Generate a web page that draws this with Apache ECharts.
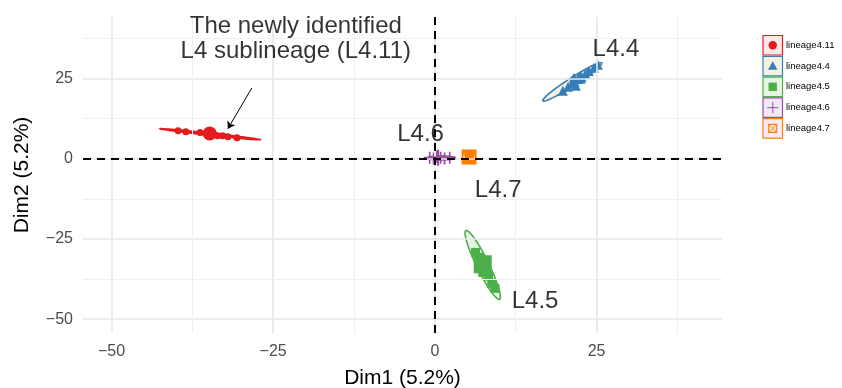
<!DOCTYPE html>
<html>
<head>
<meta charset="utf-8">
<script src="https://cdn.jsdelivr.net/npm/echarts@6/dist/echarts.min.js"></script>
<style>
  html, body { margin: 0; padding: 0; background: #fff; }
  #chart { width: 842px; height: 388px; }
</style>
</head>
<body>
<div id="chart"></div>
<script>
// Lineage names and colours
const lineages = ['lineage4.11', 'lineage4.4', 'lineage4.5', 'lineage4.6', 'lineage4.7'];
const colors = ['#E41A1C', '#377EB8', '#4DAF4A', '#984EA3', '#FF7F00'];
const fills = ['#fbe9ea', '#f3f1e0', '#e7f4e6', '#f0eaf6', '#f7ecf5'];

// Individual points per lineage [Dim1, Dim2]
const pts411 = [[-39.7, 8.7], [-38.5, 8.4], [-36.3, 8.1], [-35.4, 7.8], [-34.8, 7.8], [-34.2, 7.5], [-33.6, 7.1], [-32.8, 7.1], [-32.0, 6.8], [-30.6, 6.5]];
const pts44 = [[19.8, 21.1], [20.6, 22.4], [21.2, 23.3], [21.6, 23.9], [22.1, 24.8], [22.7, 25.5], [23.3, 26.4], [23.8, 27.3], [24.6, 28.3], [25.2, 29.2], [21.8, 22.7], [21.5, 25.2]];
const pts45 = [[6.3, -29.2], [6.9, -30.7], [7.7, -32.3], [6.8, -33.5], [7.9, -34.2], [7.4, -35.4], [8.3, -36.6], [8.8, -38.8], [9.3, -40.4]];
const pts46 = [[-0.8, 0.3], [-0.2, 0.0], [0.3, 0.6], [0.9, 0.3], [1.5, 0.0], [2.3, 0.3]];
const pts47 = [[5.3, 0.4], [5.4, 0.6]];

// Group centroids (drawn larger)
const centroids = [[-34.8, 7.8], [22.4, 25.2], [7.4, -32.9], [0.5, 0.3], [5.3, 0.5]];

// Concentration ellipses: [cx, cy, ux, uy, vx, vy, group]
const ellipses = [
  [-34.75, 7.6, 7.75, -1.7, 0.0, 0.35, 0],
  [21.25, 23.9, 4.55, 5.9, 0.34, -1.05, 1],
  [7.4, -33.1, 2.6, -10.7, 0.84, 0.84, 2],
  [1.0, 0.2, 2.2, 0.0, 0.0, 0.6, 3]
];

// Cluster labels
const clusterLabels = [
  { name: 'L4.4', value: [28.0, 34.0] },
  { name: 'L4.6', value: [-2.2, 7.5] },
  { name: 'L4.7', value: [9.8, -9.9] },
  { name: 'L4.5', value: [15.5, -44.4] }
];
const noteText = 'The newly identified\nL4 sublineage (L4.11)';
const notePos = [-21.5, 37.4];
const arrowFrom = [-28.3, 22.0];
const arrowTo = [-32.0, 9.3];

// Axis ticks
const xTicks = [-50, -25, 0, 25];
const xMinor = [-37.5, -12.5, 12.5, 37.5];
const yTicks = [-50, -25, 0, 25];
const yMinor = [-37.5, -12.5, 12.5, 37.5];

const plusPath = 'path://M4.3,0H5.7V4.3H10V5.7H5.7V10H4.3V5.7H0V4.3H4.3Z';
const sqBandPath = 'path://M0,0H10V10H0Z M1.2,4V6H8.8V4Z';
const symbols = ['circle', 'triangle', 'rect', plusPath, 'rect'];
const bigSymbols = ['circle', 'triangle', 'rect', plusPath, sqBandPath];
const pointSets = [pts411, pts44, pts45, pts46, pts47];
const smallSizes = [7, 10, 9, 12, 9];
const bigSizes = [14, 12, 18, 16, 15];

const fmt = v => (v < 0 ? '\u2212' + Math.abs(v) : String(v));
const font = 'Liberation Sans, Arial, sans-serif';

let chart = echarts.init(document.getElementById('chart'));

let series = [];

// Grid lines
series.push({
  name: 'grid', type: 'scatter', data: [], silent: true, z: 0,
  markLine: {
    silent: true, symbol: 'none', animation: false, label: { show: false },
    data: []
      .concat(xTicks.map(v => ({ xAxis: v, lineStyle: { color: '#e6e6e6', width: 1.6, type: 'solid' } })))
      .concat(yTicks.map(v => ({ yAxis: v, lineStyle: { color: '#e6e6e6', width: 1.6, type: 'solid' } })))
      .concat(xMinor.map(v => ({ xAxis: v, lineStyle: { color: '#efefef', width: 1, type: 'solid' } })))
      .concat(yMinor.map(v => ({ yAxis: v, lineStyle: { color: '#efefef', width: 1, type: 'solid' } })))
  }
});

// Ellipses
series.push({
  name: 'ellipses', type: 'custom', z: 1, silent: true,
  data: ellipses,
  renderItem: function (params, api) {
    const cx = api.value(0), cy = api.value(1);
    const ux = api.value(2), uy = api.value(3);
    const vx = api.value(4), vy = api.value(5);
    const g = api.value(6);
    const pts = [];
    for (let i = 0; i < 72; i++) {
      const t = i / 72 * Math.PI * 2;
      pts.push(api.coord([cx + Math.cos(t) * ux + Math.sin(t) * vx, cy + Math.cos(t) * uy + Math.sin(t) * vy]));
    }
    return {
      type: 'polygon',
      shape: { points: pts },
      style: { fill: g === 0 ? colors[0] : fills[g], stroke: colors[g], lineWidth: 1.6 }
    };
  }
});

// Points
lineages.forEach((name, i) => {
  series.push({
    name: name, type: 'scatter', z: 3,
    symbol: symbols[i],
    symbolSize: smallSizes[i],
    itemStyle: { color: colors[i], opacity: 1 },
    data: pointSets[i]
  });
  series.push({
    name: name + '-mean', type: 'scatter', z: 3,
    symbol: bigSymbols[i],
    symbolSize: bigSizes[i],
    itemStyle: { color: colors[i], opacity: 1 },
    data: [centroids[i]]
  });
});

// Zero lines
series.push({
  name: 'zero', type: 'scatter', data: [], silent: true, z: 4,
  markLine: {
    silent: true, symbol: 'none', animation: false, label: { show: false },
    lineStyle: { color: '#000', width: 2, type: [8, 6] },
    data: [{ xAxis: 0 }, { yAxis: 0 }]
  }
});

// Text labels and arrow
series.push({
  name: 'labels', type: 'scatter', z: 5, silent: true,
  symbolSize: 0,
  data: clusterLabels.concat([{ name: noteText, value: notePos }]),
  label: {
    show: true, position: 'inside', formatter: '{b}',
    color: '#000', fontSize: 24, lineHeight: 25, fontFamily: font
  },
  markLine: {
    silent: true, animation: false, symbol: ['none', 'arrow'], symbolSize: 7,
    label: { show: false },
    lineStyle: { color: '#000', width: 1, type: 'solid' },
    data: [[{ coord: arrowFrom }, { coord: arrowTo }]]
  }
});

// Legend keys: box, glyph, text
function keyGlyph(i, cx, cy, c) {
  if (i === 0) return [{ type: 'circle', shape: { cx: cx, cy: cy, r: 4.2 }, style: { fill: c } }];
  if (i === 1) return [{ type: 'polygon', shape: { points: [[cx, cy - 4.7], [cx + 4.7, cy + 3.6], [cx - 4.7, cy + 3.6]] }, style: { fill: c } }];
  if (i === 2) return [{ type: 'rect', shape: { x: cx - 4.2, y: cy - 4.2, width: 8.4, height: 8.4 }, style: { fill: c } }];
  if (i === 3) return [
    { type: 'line', shape: { x1: cx - 5.5, y1: cy, x2: cx + 5.5, y2: cy }, style: { stroke: c, lineWidth: 1 } },
    { type: 'line', shape: { x1: cx, y1: cy - 5.5, x2: cx, y2: cy + 5.5 }, style: { stroke: c, lineWidth: 1 } }
  ];
  return [
    { type: 'rect', shape: { x: cx - 4, y: cy - 4, width: 8, height: 8 }, style: { fill: 'none', stroke: c, lineWidth: 1.2 } },
    { type: 'line', shape: { x1: cx - 4, y1: cy - 4, x2: cx + 4, y2: cy + 4 }, style: { stroke: c, lineWidth: 1 } },
    { type: 'line', shape: { x1: cx + 4, y1: cy - 4, x2: cx - 4, y2: cy + 4 }, style: { stroke: c, lineWidth: 1 } }
  ];
}

let legendGraphics = [];
lineages.forEach((name, i) => {
  const top = 35.5 + i * 20.8;
  legendGraphics.push({
    type: 'rect', shape: { x: 763, y: top, width: 19.5, height: 19.5 },
    style: { fill: fills[i], stroke: colors[i], lineWidth: 1.2 }
  });
  legendGraphics = legendGraphics.concat(keyGlyph(i, 772.75, top + 9.75, colors[i]));
  legendGraphics.push({
    type: 'text', x: 786, y: top + 9.75,
    style: { text: name, fontSize: 9.5, fill: '#000', fontFamily: font, verticalAlign: 'middle' }
  });
});

let option = {
  animation: false,
  backgroundColor: '#fff',
  grid: { left: 83, right: 120, top: 17, bottom: 55, outerBoundsMode: 'none', containLabel: false },
  xAxis: {
    type: 'value', min: -54.4, max: 44.4,
    name: 'Dim1 (5.2%)', nameLocation: 'middle', nameGap: 35,
    nameTextStyle: { color: '#000', fontSize: 21, fontFamily: font },
    axisLine: { show: false }, axisTick: { show: false }, splitLine: { show: false },
    axisLabel: { customValues: xTicks, formatter: fmt, color: '#4d4d4d', fontSize: 16, margin: 11, fontFamily: font }
  },
  yAxis: {
    type: 'value', min: -54.3, max: 44.1,
    name: 'Dim2 (5.2%)', nameLocation: 'middle', nameGap: 50,
    nameTextStyle: { color: '#000', fontSize: 21, fontFamily: font },
    axisLine: { show: false }, axisTick: { show: false }, splitLine: { show: false },
    axisLabel: { customValues: yTicks, formatter: fmt, color: '#4d4d4d', fontSize: 16, margin: 10, fontFamily: font }
  },
  graphic: legendGraphics,
  series: series
};

chart.setOption(option);
</script>
</body>
</html>
